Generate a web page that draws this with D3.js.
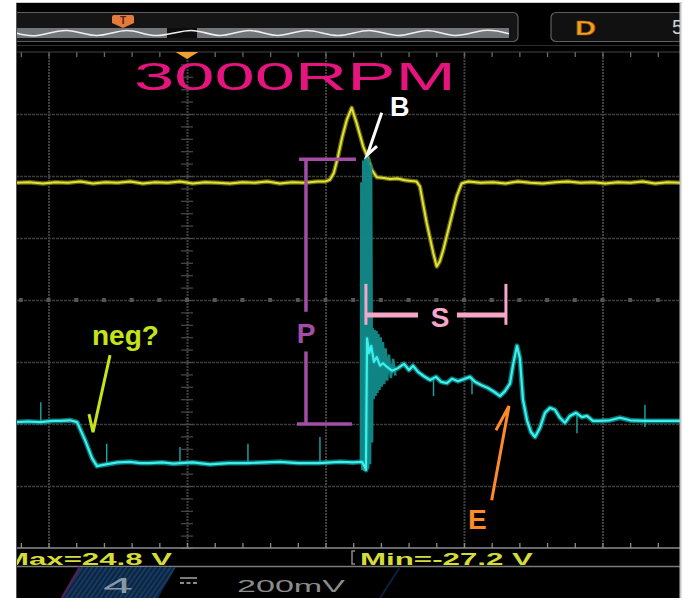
<!DOCTYPE html>
<html><head><meta charset="utf-8">
<script src="https://cdn.jsdelivr.net/npm/d3@7"></script>
<style>html,body{margin:0;padding:0;background:#fff;}svg{display:block}</style>
</head><body><svg id="c" width="693" height="615"></svg>
<script>
// ---------- DATA (time in µs, 100 µs/div; amplitude in divisions) ----------
const majorT = [-100, 0, 100, 200, 300];
const majorV = [-4, -3, -2, -1, 0, 1, 2, 3, 4];
const minorT = d3.range(-120, 341, 20);
const minorV = d3.range(-4, 4.01, 0.2);

const ch1Trace = [
[-123.5,1.89],[-114,1.90],[-104,1.88],[-95,1.90],[-86,1.89],[-77,1.91],[-68,1.88],[-59,1.90],[-50,1.89],[-41,1.91],
[-32,1.88],[-23,1.90],[-14,1.89],[-5,1.91],[4,1.88],[13,1.90],[22,1.89],[31,1.88],[40,1.90],[49,1.89],[58,1.91],
[67,1.88],[76,1.90],[85,1.89],[94,1.91],[99.6,1.91],[103.2,1.94],[106,2.05],[109,2.31],[112,2.62],[115.3,2.90],
[118.9,3.10],[122.5,2.85],[127.3,2.47],[130.2,2.31],[133.4,2.10],[137,1.98],[141,1.97],[146.6,1.95],[152,1.96],
[157.4,1.93],[162,1.92],[165.8,1.91],[168.2,1.83],[170.5,1.55],[173.1,1.24],[177.8,0.76],[180.3,0.54],[182.5,0.62],
[185.1,0.81],[189.9,1.24],[194.7,1.67],[198.3,1.88],[203,1.91],[212,1.89],[221,1.90],[230,1.88],[239,1.91],[248,1.89],
[257,1.88],[266,1.90],[275,1.91],[284,1.89],[293,1.90],[302,1.88],[311,1.90],[320,1.89],[329,1.91],[338,1.88],
[347,1.90],[356,1.89]
];

const ch4Trace = [
[-123.5,-1.97],[-115,-1.96],[-106,-1.97],[-97,-1.95],[-91.7,-1.95],[-84.5,-1.94],[-79.4,-1.97],[-73.6,-2.26],
[-68.6,-2.55],[-65,-2.68],[-60.6,-2.66],[-50,-2.62],[-41.2,-2.61],[-34,-2.63],[-26.7,-2.63],[-18,-2.62],[-10,-2.64],
[4,-2.62],[16.6,-2.65],[30,-2.63],[43.3,-2.63],[56,-2.62],[67.1,-2.61],[80,-2.63],[95.3,-2.63],[110.5,-2.61],
[120,-2.62],[126.4,-2.61],[128.5,-2.70],[129.2,-2.74],[130.0,-0.62],[131.5,-0.86],[133,-0.74],[135,-1.00],
[137,-0.92],[139.4,-1.06],[141.5,-1.02],[144.4,-1.08],[148,-1.14],[152.3,-1.10],[156.7,-1.03],[160.3,-1.13],
[163.2,-1.06],[166.8,-1.16],[171.1,-1.23],[175.5,-1.29],[179.8,-1.24],[183.4,-1.32],[187.7,-1.34],[191.3,-1.27],
[195.7,-1.31],[200.7,-1.27],[204.3,-1.24],[207.9,-1.32],[212.3,-1.37],[217.3,-1.42],[221.7,-1.48],[226,-1.55],
[229.6,-1.47],[233.2,-1.35],[235.4,-1.05],[238.3,-0.74],[240.4,-0.94],[242.6,-1.61],[245.5,-1.94],[248.4,-2.13],
[251.3,-2.21],[254.9,-2.06],[258.5,-1.82],[262.1,-1.74],[265.7,-1.77],[269.3,-1.90],[272.9,-1.98],[276.5,-1.87],
[280.9,-1.82],[285.2,-1.89],[288.8,-1.87],[293.1,-1.95],[298.2,-1.95],[305.4,-1.94],[312.6,-1.90],[319.9,-1.94],
[330,-1.95],[341.5,-1.95],[356,-1.95]
];

// short glitches on channel 4: [t, from, to]
const ch4Glitches = [
[-105.6,-1.97,-1.65],[-58,-2.63,-2.32],[-5.1,-2.63,-2.37],[44,-2.63,-2.32],[96,-2.63,-2.21],
[178,-1.27,-1.55],[205.8,-1.26,-1.52],[281.6,-1.82,-2.15],[330.7,-1.69,-2.05]
];

// fast edge burst (dim, dense)
const ch4Burst = [
[125.6,-2.61],[125.9,1.90],[126.6,-2.74],[127.3,2.25],[128.0,-2.76],[128.7,2.30],[129.4,-2.75],[130.1,2.31],
[130.8,-2.72],[131.5,2.28],[132.2,-2.65],[132.9,2.18],[133.6,-2.30],[134.0,-0.45],[134.7,-1.60],[135.4,-0.48],
[136.1,-1.55],[136.8,-0.50],[137.5,-1.50],[138.2,-0.55],[139.0,-1.45],[139.8,-0.60],[140.6,-1.40],[141.5,-0.68],
[142.4,-1.36],[143.4,-0.78],[144.5,-1.30],[145.8,-0.88],[147.2,-1.26],[148.8,-0.95],[150.5,-1.22]
];

// overview strip (record view) wave crests/troughs, 0..100 of strip
const overviewWave = [
[0,0],[4.3,-1],[10.3,1],[16.4,-1],[22.5,1],[28.6,-1],[35.5,1],[41.4,-1],[47.3,1],[53.1,-1],
[59.0,1],[65.3,-1],[71.6,1],[77.5,-1],[83.4,1],[89.0,-1],[94.9,1],[100,-0.3]
];

// annotations in data coordinates [t, v]
const titleText = "3000RPM";
const titleAnchor = [-38.3, 3.39];
const bracketP = { t: 85.9, vTop: 2.27, vBot: -2.0, tTop: [80.9, 122.0], tBot: [79.4, 119.1], gap: [-0.19, -0.83] };
const bracketS = { v: -0.24, tL: 129.2, tR: 230.3, tickV: [0.26, -0.40], gap: [166.8, 194.9] };
const labelsAnn = [
  { text: "B", t: 146.6, v: 2.97 },
  { text: "P", t: 85.9, v: -0.69 },
  { text: "S", t: 182.7, v: -0.44 },
  { text: "neg?", t: -68.6, v: -0.73 },
  { text: "E", t: 202.9, v: -3.69 }
];
const arrowB = [[140.6, 3.02], [130.2, 2.34], [137.2, 2.48]];
const arrowNeg = [[-55.6, -0.89], [-67.9, -2.13], [-70.8, -1.84]];
const arrowE = [[220.0, -3.23], [232.5, -1.71], [223.1, -2.10]];
const measTexts = ["Max=24.8 V", "Min=-27.2 V"];
const chanText = ["4", "200mV"];

// ---------- SCALES ----------
const x = d3.scaleLinear().domain([-123.5, 356]).range([16, 680]);
const y = d3.scaleLinear().domain([-4, 4]).range([548, 52]);
const ov = d3.scaleLinear().domain([0, 100]).range([16, 509]);
const ovY = d3.scaleLinear().domain([-1, 1]).range([35.5, 30.5]);

const svg = d3.select("#c");
const FONT = "'Liberation Sans', Arial, sans-serif";

svg.append("rect").attr("width", 693).attr("height", 615).attr("fill", "#fff");
svg.append("rect").attr("x", 16).attr("y", 2).attr("width", 666).attr("height", 1).attr("fill", "#c8ccd4");
svg.append("rect").attr("x", 16).attr("y", 3).attr("width", 664).attr("height", 595).attr("fill", "#000");

const defs = svg.append("defs");
defs.append("clipPath").attr("id", "panel").append("rect").attr("x", 16).attr("y", 3).attr("width", 664).attr("height", 595);
defs.append("clipPath").attr("id", "grat").append("rect").attr("x", 16).attr("y", 52).attr("width", 664).attr("height", 496);
const hatch = defs.append("pattern").attr("id", "hatch").attr("patternUnits", "userSpaceOnUse")
  .attr("width", 4).attr("height", 4).attr("patternTransform", "rotate(35)");
hatch.append("rect").attr("width", 4).attr("height", 4).attr("fill", "#0b2440");
hatch.append("rect").attr("width", 2).attr("height", 4).attr("fill", "#163a60");

const root = svg.append("g").attr("clip-path", "url(#panel)");

// ---------- TOP BAR ----------
root.append("rect").attr("x", 8).attr("y", 12.5).attr("width", 510).attr("height", 29).attr("rx", 5)
  .attr("fill", "#151515").attr("stroke", "#5e5e5e").attr("stroke-width", 1.2);
root.append("rect").attr("x", 16).attr("y", 28).attr("width", 493).attr("height", 10).attr("fill", "#72767a");
root.append("rect").attr("x", 167).attr("y", 28).attr("width", 30).attr("height", 10).attr("fill", "#0c0c0c");
root.append("path").datum(overviewWave)
  .attr("d", d3.line().x(d => ov(d[0])).y(d => ovY(d[1])).curve(d3.curveNatural))
  .attr("fill", "none").attr("stroke", "#f0f0f0").attr("stroke-width", 1.6);
root.append("line").attr("x1", 16).attr("x2", 680).attr("y1", 45.5).attr("y2", 45.5).attr("stroke", "#2e2e2e").attr("stroke-width", 1);
root.append("path").attr("d", "M113,15 h19 a2,2 0 0 1 2,2 v6 l-11,5 l-11,-5 v-6 a2,2 0 0 1 2,-2 z")
  .attr("fill", "#e47a3c");
root.append("text").attr("x", 123).attr("y", 24).attr("text-anchor", "middle").attr("font-family", FONT)
  .attr("font-weight", "bold").attr("font-size", 10).attr("fill", "#5a200a").text("T");
root.append("rect").attr("x", 551).attr("y", 12.5).attr("width", 150).attr("height", 29).attr("rx", 5)
  .attr("fill", "#111").attr("stroke", "#5e5e5e").attr("stroke-width", 1.2);
root.append("text").attr("x", 575).attr("y", 34.5).attr("font-family", FONT).attr("font-weight", "bold")
  .attr("font-size", 21).attr("textLength", 21).attr("lengthAdjust", "spacingAndGlyphs")
  .attr("fill", "#f0a028").attr("stroke", "#9a4a00").attr("stroke-width", 0.6).text("D");
root.append("text").attr("x", 672).attr("y", 34).attr("font-family", FONT).attr("font-size", 20)
  .attr("fill", "#d0d0d0").text("5");

// ---------- GRATICULE ----------
const vGrid = root.append("g").attr("transform", `translate(0,${y(-4)})`)
  .call(d3.axisBottom(x).tickValues(majorT).tickSize(-(y(-4) - y(4))).tickFormat(""));
vGrid.select(".domain").remove();
vGrid.selectAll("line").attr("stroke", "#404040").attr("stroke-width", 2).attr("stroke-dasharray", "2,1");

const hGrid = root.append("g").attr("transform", `translate(${x.range()[0]},0)`)
  .call(d3.axisRight(y).tickValues(majorV.filter(v => v > -4 && v < 4)).tickSize(664).tickFormat(""));
hGrid.select(".domain").remove();
hGrid.selectAll("line").attr("stroke", "#3c3c3c").attr("stroke-width", 1.6).attr("stroke-dasharray", "3,1");

const cT = root.append("g").attr("transform", `translate(${x(0)},0)`);
cT.call(d3.axisLeft(y).tickValues(minorV).tickSize(6).tickFormat(""));
cT.append("g").call(d3.axisRight(y).tickValues(minorV).tickSize(6).tickFormat(""));
cT.selectAll(".domain").remove();
cT.selectAll("line").attr("stroke", "#4a4a4a").attr("stroke-width", 1.2);
root.selectAll("rect.cmark").data(minorT).join("rect").attr("class", "cmark")
  .attr("x", d => x(d) - 2).attr("y", y(0) - 2).attr("width", 4).attr("height", 4).attr("fill", "#555");

const topB = root.append("g").attr("transform", `translate(0,${y(4)})`)
  .call(d3.axisBottom(x).tickValues(minorT).tickSize(5).tickFormat(""));
topB.select(".domain").remove();
topB.selectAll("line").attr("stroke", "#6a6a6a").attr("stroke-width", 1.3);
root.append("line").attr("x1", 16).attr("x2", 680).attr("y1", y(4)).attr("y2", y(4)).attr("stroke", "#444").attr("stroke-width", 1.2);
const botB = root.append("g").attr("transform", `translate(0,${y(-4)})`)
  .call(d3.axisTop(x).tickValues(minorT).tickSize(5).tickFormat(""));
botB.select(".domain").remove();
botB.selectAll("line").attr("stroke", "#8a8a8a").attr("stroke-width", 1.3);
root.append("line").attr("x1", 16).attr("x2", 680).attr("y1", y(-4)).attr("y2", y(-4)).attr("stroke", "#8c8c8c").attr("stroke-width", 1.6);
root.append("line").attr("x1", 16).attr("x2", 680).attr("y1", 566.5).attr("y2", 566.5).attr("stroke", "#7a7a7a").attr("stroke-width", 1.4);

root.append("path").attr("d", `M${x(0) - 11.5},${y(4)} L${x(0) + 11.5},${y(4)} L${x(0)},${y(4) + 7} Z`).attr("fill", "#f0a030");

// ---------- TRACES ----------
const tr = root.append("g").attr("clip-path", "url(#grat)");
const line = d3.line().x(d => x(d[0])).y(d => y(d[1]));

tr.append("path").datum(ch1Trace).attr("d", line).attr("fill", "none")
  .attr("stroke", "#7f7f10").attr("stroke-width", 4.5).attr("stroke-linejoin", "round").attr("opacity", 0.8);
tr.append("path").datum(ch1Trace).attr("d", line).attr("fill", "none")
  .attr("stroke", "#e2e23a").attr("stroke-width", 2).attr("stroke-linejoin", "round");

tr.append("path").datum(ch4Burst).attr("d", line).attr("fill", "none")
  .attr("stroke", "#138a8a").attr("stroke-width", 2.6).attr("opacity", 0.95);
tr.selectAll("line.gl").data(ch4Glitches).join("line").attr("class", "gl")
  .attr("x1", d => x(d[0])).attr("x2", d => x(d[0])).attr("y1", d => y(d[1])).attr("y2", d => y(d[2]))
  .attr("stroke", "#1fa6a6").attr("stroke-width", 1.4);
tr.append("path").datum(ch4Trace).attr("d", line).attr("fill", "none")
  .attr("stroke", "#0c9a9a").attr("stroke-width", 5).attr("stroke-linejoin", "round").attr("opacity", 0.75);
tr.append("path").datum(ch4Trace).attr("d", line).attr("fill", "none")
  .attr("stroke", "#3ef0ec").attr("stroke-width", 2.2).attr("stroke-linejoin", "round");

// ---------- TITLE ----------
root.append("text").attr("x", x(titleAnchor[0])).attr("y", y(titleAnchor[1]))
  .attr("font-family", FONT).attr("font-size", 39).attr("fill", "#e6147e")
  .attr("textLength", 322).attr("lengthAdjust", "spacingAndGlyphs").text(titleText);

// ---------- ANNOTATIONS ----------
const ann = root.append("g");
const cP = "#a24ea4";
ann.append("line").attr("x1", x(bracketP.t)).attr("x2", x(bracketP.t)).attr("y1", y(bracketP.vTop)).attr("y2", y(bracketP.gap[0]))
  .attr("stroke", cP).attr("stroke-width", 3.5);
ann.append("line").attr("x1", x(bracketP.t)).attr("x2", x(bracketP.t)).attr("y1", y(bracketP.gap[1])).attr("y2", y(bracketP.vBot))
  .attr("stroke", cP).attr("stroke-width", 3.5);
ann.append("line").attr("x1", x(bracketP.tTop[0])).attr("x2", x(bracketP.tTop[1])).attr("y1", y(bracketP.vTop)).attr("y2", y(bracketP.vTop))
  .attr("stroke", cP).attr("stroke-width", 3.5);
ann.append("line").attr("x1", x(bracketP.tBot[0])).attr("x2", x(bracketP.tBot[1])).attr("y1", y(bracketP.vBot)).attr("y2", y(bracketP.vBot))
  .attr("stroke", cP).attr("stroke-width", 3.5);
const cS = "#f6a6c8";
[bracketS.tL, bracketS.tR].forEach(t => ann.append("line").attr("x1", x(t)).attr("x2", x(t))
  .attr("y1", y(bracketS.tickV[0])).attr("y2", y(bracketS.tickV[1])).attr("stroke", cS).attr("stroke-width", 3));
ann.append("line").attr("x1", x(bracketS.tL)).attr("x2", x(bracketS.gap[0])).attr("y1", y(bracketS.v)).attr("y2", y(bracketS.v))
  .attr("stroke", cS).attr("stroke-width", 5);
ann.append("line").attr("x1", x(bracketS.gap[1])).attr("x2", x(bracketS.tR)).attr("y1", y(bracketS.v)).attr("y2", y(bracketS.v))
  .attr("stroke", cS).attr("stroke-width", 5);

const annColors = { "B": "#ffffff", "P": cP, "S": cS, "neg?": "#c4e41a", "E": "#ff8a2a" };
const annAnchor = { "B": "start", "P": "middle", "S": "middle", "neg?": "start", "E": "start" };
ann.selectAll("text.lab").data(labelsAnn).join("text").attr("class", "lab")
  .attr("x", d => x(d.t)).attr("y", d => y(d.v)).attr("text-anchor", d => annAnchor[d.text])
  .attr("font-family", FONT).attr("font-weight", "bold").attr("font-size", d => d.text === "B" ? 27 : 28)
  .attr("fill", d => annColors[d.text]).text(d => d.text);

const arrowLine = d3.line().x(d => x(d[0])).y(d => y(d[1]));
[[arrowB, "#ffffff"], [arrowNeg, "#c4e41a"], [arrowE, "#ff8a2a"]].forEach(([a, c]) => {
  ann.append("path").datum(a).attr("d", arrowLine).attr("fill", "none").attr("stroke", c)
    .attr("stroke-width", 3).attr("stroke-linejoin", "miter");
});

// ---------- MEASUREMENT ROW ----------
root.append("text").attr("x", 3).attr("y", 564.5).attr("font-family", FONT).attr("font-weight", "bold")
  .attr("font-size", 16.5).attr("fill", "#d4dc3a").attr("textLength", 169).attr("lengthAdjust", "spacingAndGlyphs")
  .text(measTexts[0]);
root.append("path").attr("d", "M355,551 h-3 v13 h3").attr("fill", "none").attr("stroke", "#888").attr("stroke-width", 1.5);
root.append("text").attr("x", 360).attr("y", 564.5).attr("font-family", FONT).attr("font-weight", "bold")
  .attr("font-size", 16.5).attr("fill", "#d4dc3a").attr("textLength", 173).attr("lengthAdjust", "spacingAndGlyphs")
  .text(measTexts[1]);

// ---------- CHANNEL ROW ----------
root.append("path").attr("d", "M80,567 L176,567 L158,598 L62,598 Z").attr("fill", "url(#hatch)");
root.append("line").attr("x1", 80).attr("y1", 567).attr("x2", 62).attr("y2", 598).attr("stroke", "#4a2258").attr("stroke-width", 2.5);
root.append("line").attr("x1", 400).attr("y1", 567).attr("x2", 380).attr("y2", 598).attr("stroke", "#0d1f3f").attr("stroke-width", 2);
root.append("text").attr("x", 103).attr("y", 593).attr("font-family", FONT).attr("font-size", 22)
  .attr("fill", "#8a98a4").attr("textLength", 30).attr("lengthAdjust", "spacingAndGlyphs").text(chanText[0]);
root.append("line").attr("x1", 180).attr("x2", 197).attr("y1", 578).attr("y2", 578).attr("stroke", "#8a8a8a").attr("stroke-width", 1.8);
root.append("line").attr("x1", 180).attr("x2", 197).attr("y1", 583).attr("y2", 583).attr("stroke", "#8a8a8a").attr("stroke-width", 1.8).attr("stroke-dasharray", "4,2.5");
root.append("text").attr("x", 237).attr("y", 592).attr("font-family", FONT).attr("font-size", 17)
  .attr("fill", "#8c8c8c").attr("textLength", 108).attr("lengthAdjust", "spacingAndGlyphs").text(chanText[1]);

svg.append("line").attr("x1", 16.5).attr("x2", 16.5).attr("y1", 3).attr("y2", 598).attr("stroke", "#555").attr("stroke-width", 1);
svg.append("line").attr("x1", 680.5).attr("x2", 680.5).attr("y1", 3).attr("y2", 598).attr("stroke", "#c4c4c4").attr("stroke-width", 2);
</script>
</body></html>
